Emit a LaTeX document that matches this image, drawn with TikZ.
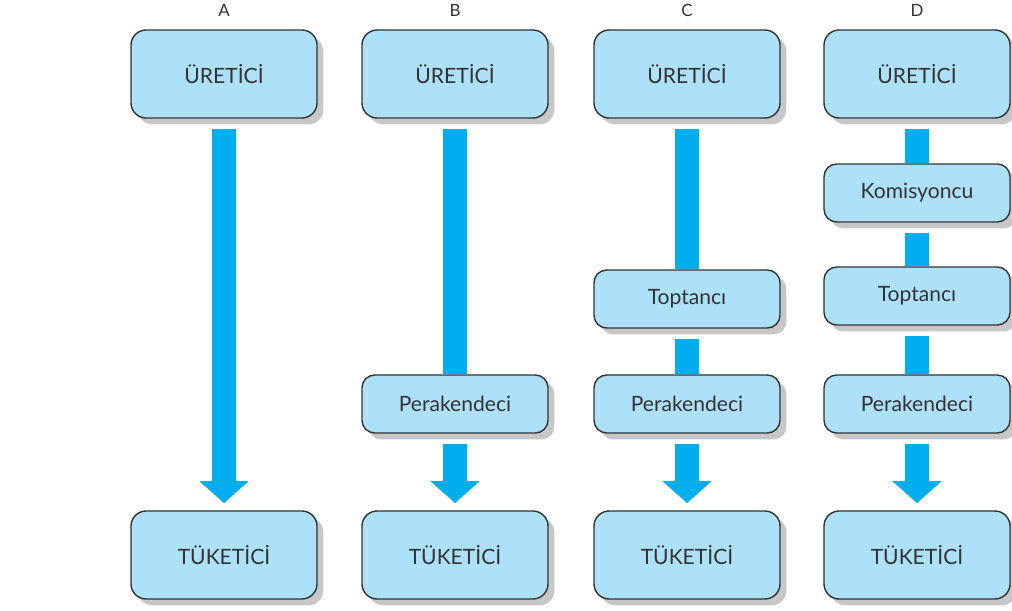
\documentclass[tikz,border=0pt]{standalone}
\usepackage{fontspec}
\setmainfont{Lato}
\usepackage{tikz}
\usetikzlibrary{calc,shapes,arrows.meta,shadows}
\definecolor{boxblue}{HTML}{ADE0F9}
\definecolor{flowblue}{HTML}{00AEEF}
\definecolor{edgegrey}{HTML}{333333}
\pgfdeclarelayer{background}
\pgfsetlayers{background,main}
\tikzset{
   main node/.style={rectangle,rounded corners=0.38cm,fill=boxblue,draw=edgegrey,line width=1pt,
                     minimum width=4.65cm,minimum height=2.2cm,text=black!80,font=\fontsize{15}{17}\selectfont,
                     drop shadow={shadow xshift=0.16cm,shadow yshift=-0.16cm,fill=black!22,opacity=1}},
   middle node/.style={main node,minimum height=1.45cm,rounded corners=0.32cm},
   col label/.style={font=\fontsize{12}{14}\selectfont,text=black!80},
   shaft/.style={draw=flowblue,line width=0.6cm,line cap=butt,shorten <=0.25cm},
   flow/.style={shaft,-{Triangle[width=1.2cm,length=0.55cm]},shorten >=0.18cm}
}

\begin{document}
\begin{tikzpicture}[x=0.025cm,y=-0.025cm]
\useasboundingbox (0,0) rectangle (1012,611);
% column labels
\node[col label] (labA) at (224,10) {A};
\node[col label] (labB) at (455,10) {B};
\node[col label] (labC) at (687,10) {C};
\node[col label] (labD) at (917,10) {D};
% A
\node[main node] (uA) at (224,74)  {ÜRETİCİ};
\node[main node] (tA) at (224,555) {TÜKETİCİ};
% B
\node[main node] (uB) at (455,74)  {ÜRETİCİ};
\node[middle node] (pB) at (455,404) {Perakendeci};
\node[main node] (tB) at (455,555) {TÜKETİCİ};
% C
\node[main node] (uC) at (687,74)  {ÜRETİCİ};
\node[middle node] (oC) at (687,299) {Toptancı};
\node[middle node] (pC) at (687,404) {Perakendeci};
\node[main node] (tC) at (687,555) {TÜKETİCİ};
% D
\node[main node] (uD) at (917,74)  {ÜRETİCİ};
\node[middle node] (kD) at (917,193) {Komisyoncu};
\node[middle node] (oD) at (917,296) {Toptancı};
\node[middle node] (pD) at (917,404) {Perakendeci};
\node[main node] (tD) at (917,555) {TÜKETİCİ};
%
\begin{pgfonlayer}{background}
  \path (uA) edge[flow] (tA);
  \path (uB) edge[shaft] (pB)
        (pB) edge[flow]  (tB);
  \path (uC) edge[shaft] (oC)
        (oC) edge[shaft] (pC)
        (pC) edge[flow]  (tC);
  \path (uD) edge[shaft] (kD)
        (kD) edge[shaft] (oD)
        (oD) edge[shaft] (pD)
        (pD) edge[flow]  (tD);
\end{pgfonlayer}
\end{tikzpicture}
\end{document}
